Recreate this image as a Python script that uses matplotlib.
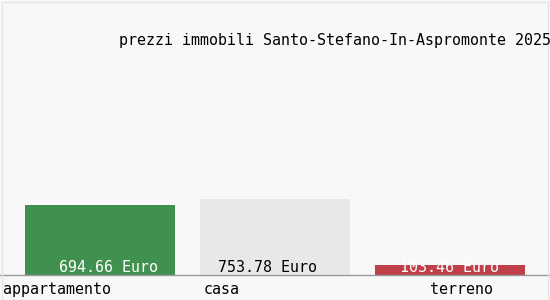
import matplotlib.pyplot as plt
from matplotlib.patches import Rectangle

# data
categories = ['appartamento', 'casa', 'terreno']
prices = [694.66, 753.78, 103.46]
bar_colors = ['#409150', '#e8e8e8', '#c0404a']
text_colors = ['white', 'black', 'white']
title = 'prezzi immobili Santo-Stefano-In-Aspromonte 2025'

plt.rcParams['font.family'] = ['DejaVu Sans Mono', 'Liberation Mono']

fig = plt.figure(figsize=(5.5, 3), dpi=100)
fig.patch.set_facecolor('#f8f8f8')
# faint frame round the picture
fig.add_artist(Rectangle((1.5 / 550, 0.5 / 300), 546 / 550, 298 / 300,
                         transform=fig.transFigure, fill=False,
                         edgecolor='#e4e4e4', linewidth=1))

ax = fig.add_axes([0, 25 / 300, 1, 250 / 300])
ax.set_facecolor('none')
x = list(range(len(categories)))
ax.bar(x, prices, width=150 / 175, color=bar_colors)
ax.set_xlim(-100 / 175, 450 / 175)
ax.set_ylim(0, 2480)
for s in ['top', 'right', 'left']:
    ax.spines[s].set_visible(False)
ax.spines['bottom'].set_color('#999999')
ax.spines['bottom'].set_linewidth(1)
ax.set_yticks([])
ax.set_xticks([])

value_shift = [0.046, -0.04, 0.0]
for i, v in enumerate(prices):
    ax.text(i + value_shift[i], 70, f'{v:.2f} Euro', ha='center', va='center',
            color=text_colors[i], fontsize=10.8)

label_shift = [-0.246, -0.303, 0.063]
for i, c in enumerate(categories):
    ax.text(i + label_shift[i], -140, c, ha='center', va='center',
            fontsize=10.8, color='black')

fig.text(119 / 550, 1 - 40 / 300, title, ha='left', va='center',
         fontsize=10.8, color='black')

fig.savefig('out.png', dpi=100, facecolor=fig.get_facecolor())
